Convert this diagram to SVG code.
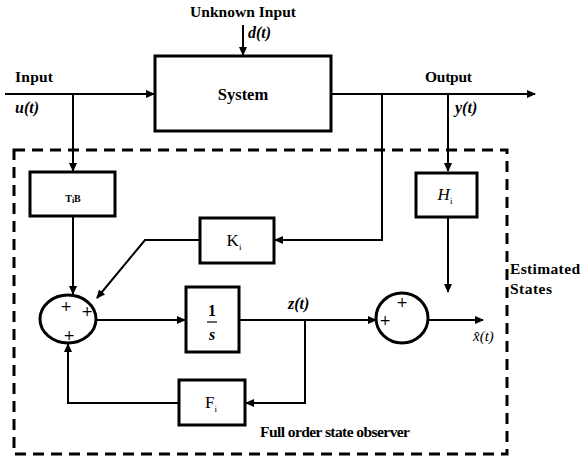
<svg xmlns="http://www.w3.org/2000/svg" width="581" height="460" viewBox="0 0 581 460">
<style>
.box{fill:#fff;stroke:#000;stroke-width:3}
.sum{fill:#fff;stroke:#000;stroke-width:3}
.ln{fill:none;stroke:#000;stroke-width:2}
.dash{fill:none;stroke:#000;stroke-width:3;stroke-dasharray:11 7}
text{font-family:"Liberation Serif","DejaVu Serif",serif;fill:#000}
.lb{font-weight:bold;font-size:15.5px}
.it{font-weight:bold;font-style:italic;font-size:16px}
.pl{font-family:"DejaVu Sans",sans-serif;font-size:14px}
</style>
<defs>
<marker id="ah" markerWidth="9" markerHeight="8" refX="8" refY="4" orient="auto" markerUnits="userSpaceOnUse">
<path d="M0,0 L9,4 L0,8 Z" fill="#000"/>
</marker>
</defs>
<rect class="dash" x="14" y="150" width="493" height="304"/>
<g id="connectors">
<path class="ln" d="M5,94 H154" marker-end="url(#ah)"/>
<path class="ln" d="M73,94 V171" marker-end="url(#ah)"/>
<path class="ln" d="M243,25 V55" marker-end="url(#ah)"/>
<path class="ln" d="M331,94 H535" marker-end="url(#ah)"/>
<path class="ln" d="M382,94 V240 H275" marker-end="url(#ah)"/>
<path class="ln" d="M448,94 V171" marker-end="url(#ah)"/>
<path class="ln" d="M73,217 V294" marker-end="url(#ah)"/>
<path class="ln" d="M200,240 H145 L97,298" marker-end="url(#ah)"/>
<path class="ln" d="M97,320 H185" marker-end="url(#ah)"/>
<path class="ln" d="M240,320 H376" marker-end="url(#ah)"/>
<path class="ln" d="M305,320 V403 H246" marker-end="url(#ah)"/>
<path class="ln" d="M179,403 H68 V344" marker-end="url(#ah)"/>
<path class="ln" d="M448,217 V292" marker-end="url(#ah)"/>
<path class="ln" d="M428,320 H483" marker-end="url(#ah)"/>
</g>
<g id="system">
<rect class="box" x="155" y="56" width="176" height="75"/>
<text x="243" y="100" text-anchor="middle" font-weight="bold" font-size="16.5px">System</text>
</g>
<g id="tib">
<rect class="box" x="30" y="172" width="85" height="44"/>
<text x="73" y="202" text-anchor="middle" font-weight="bold" font-size="10px">T<tspan font-size="8px" dy="1">i</tspan><tspan dy="-1">B</tspan></text>
</g>
<g id="ki">
<rect class="box" x="200" y="218" width="74" height="45"/>
<text x="234" y="246" text-anchor="middle" font-size="17px">K<tspan font-size="9px" dy="4">i</tspan></text>
</g>
<g id="integrator">
<rect class="box" x="186" y="287" width="53" height="65"/>
<text x="212" y="316" text-anchor="middle" font-weight="bold" font-size="16px">1</text>
<line x1="207" y1="322" x2="217" y2="322" stroke="#000" stroke-width="1.2"/>
<text x="212" y="340" text-anchor="middle" font-weight="bold" font-style="italic" font-size="16px">s</text>
</g>
<g id="fi">
<rect class="box" x="179" y="380" width="66" height="45"/>
<text x="211" y="408" text-anchor="middle" font-size="17px">F<tspan font-size="9px" dy="4">i</tspan></text>
</g>
<g id="hi">
<rect class="box" x="416" y="173" width="61" height="44"/>
<text x="445" y="200" text-anchor="middle" font-style="italic" font-size="17px">H<tspan font-style="normal" font-size="9px" dy="4">i</tspan></text>
</g>
<g id="sum1">
<ellipse class="sum" cx="68" cy="319" rx="28" ry="24"/>
<text class="pl" x="66" y="311" text-anchor="middle">+</text>
<text class="pl" x="87" y="316" text-anchor="middle">+</text>
<text class="pl" x="69" y="340" text-anchor="middle">+</text>
</g>
<g id="sum2">
<ellipse class="sum" cx="402" cy="318" rx="26" ry="25"/>
<text class="pl" x="402" y="307" text-anchor="middle">+</text>
<text class="pl" x="385" y="325" text-anchor="middle">+</text>
</g>
<g id="labels">
<text class="lb" x="190" y="17" textLength="106">Unknown Input</text>
<text class="it" x="248" y="38">d(t)</text>
<text class="lb" x="15" y="82" textLength="38">Input</text>
<text class="it" x="15" y="113">u(t)</text>
<text class="lb" x="425" y="82" textLength="47">Output</text>
<text class="it" x="455" y="113">y(t)</text>
<text class="it" x="288" y="309">z(t)</text>
<text x="473" y="341" font-style="italic" font-size="15px">x̂(t)</text>
<text class="lb" x="510" y="274" textLength="70">Estimated</text>
<text class="lb" x="510" y="294" textLength="42">States</text>
<text class="lb" x="260" y="437" textLength="150">Full order state observer</text>
</g>
</svg>
